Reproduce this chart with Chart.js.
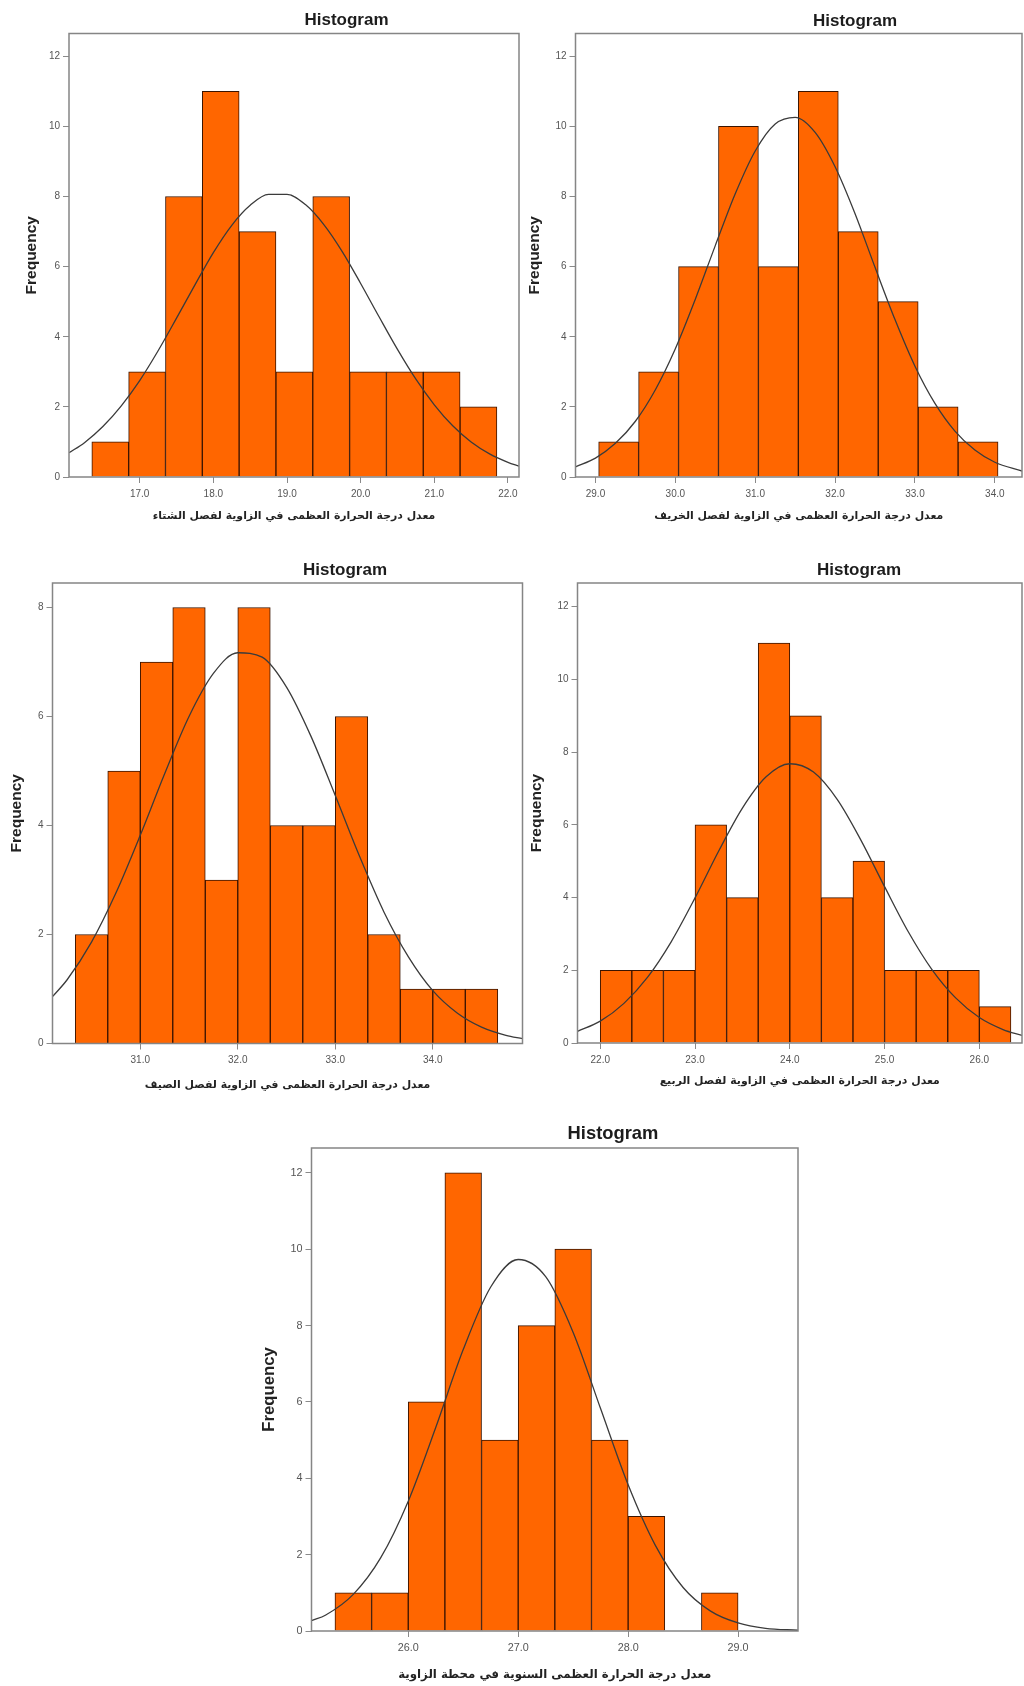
<!DOCTYPE html>
<html>
<head>
<meta charset="utf-8">
<script src="https://cdn.jsdelivr.net/npm/chart.js@4.4.1/dist/chart.umd.min.js"></script>
<style>
  html, body { margin: 0; padding: 0; background: #ffffff; }
  body { width: 1024px; height: 1686px; position: relative; overflow: hidden; }
  canvas { position: absolute; }
</style>
</head>
<body>
<canvas id="winter"></canvas>
<canvas id="autumn"></canvas>
<canvas id="summer"></canvas>
<canvas id="spring"></canvas>
<canvas id="annual"></canvas>
<script>
// ---- Winter: mean maximum temperature ----
const winterEdges  = [16.35, 16.85, 17.35, 17.85, 18.35, 18.85, 19.35, 19.85, 20.35, 20.85, 21.35, 21.85];
const winterCounts = [1, 3, 8, 11, 7, 3, 8, 3, 3, 3, 2];
const winterCurveX = [16.04, 16.25, 16.5, 16.75, 17, 17.25, 17.5, 17.75, 18, 18.25, 18.5, 18.75, 19, 19.25, 19.5, 19.75, 20, 20.25, 20.5, 20.75, 21, 21.25, 21.5, 21.75, 22, 22.15];
const winterCurveY = [0.69, 0.98, 1.44, 2.03, 2.75, 3.60, 4.53, 5.48, 6.40, 7.18, 7.75, 8.06, 8.06, 7.77, 7.20, 6.43, 5.52, 4.57, 3.64, 2.79, 2.06, 1.46, 1.00, 0.66, 0.42, 0.31];
const winterTicks  = [17, 18, 19, 20, 21, 22];
const winterRange  = [16.04, 22.15];

// ---- Autumn ----
const autumnEdges  = [29.04, 29.54, 30.04, 30.54, 31.04, 31.54, 32.04, 32.54, 33.04, 33.54, 34.04];
const autumnCounts = [1, 3, 6, 10, 6, 11, 7, 5, 2, 1];
const autumnCurveX = [28.75, 29, 29.25, 29.5, 29.75, 30, 30.25, 30.5, 30.75, 31, 31.25, 31.5, 31.75, 32, 32.25, 32.5, 32.75, 33, 33.25, 33.5, 33.75, 34, 34.34];
const autumnCurveY = [0.29, 0.54, 0.96, 1.59, 2.49, 3.66, 5.07, 6.60, 8.08, 9.30, 10.07, 10.26, 9.83, 8.85, 7.51, 5.98, 4.49, 3.16, 2.10, 1.31, 0.77, 0.42, 0.17];
const autumnTicks  = [29, 30, 31, 32, 33, 34];
const autumnRange  = [28.75, 34.34];

// ---- Summer ----
const summerEdges  = [30.3333, 30.6667, 31.0, 31.3333, 31.6667, 32.0, 32.3333, 32.6667, 33.0, 33.3333, 33.6667, 34.0, 34.3333, 34.6667];
const summerCounts = [2, 5, 7, 8, 3, 8, 4, 4, 6, 2, 1, 1, 1];
const summerCurveX = [30.10, 30.25, 30.5, 30.75, 31, 31.25, 31.5, 31.75, 32, 32.25, 32.5, 32.75, 33, 33.25, 33.5, 33.75, 34, 34.25, 34.5, 34.75, 34.92];
const summerCurveY = [0.86, 1.17, 1.86, 2.76, 3.82, 4.95, 6.00, 6.79, 7.17, 7.09, 6.54, 5.64, 4.55, 3.43, 2.41, 1.59, 0.97, 0.56, 0.30, 0.15, 0.09];
const summerTicks  = [31, 32, 33, 34];
const summerRange  = [30.10, 34.92];

// ---- Spring ----
const springEdges  = [22.0, 22.3333, 22.6667, 23.0, 23.3333, 23.6667, 24.0, 24.3333, 24.6667, 25.0, 25.3333, 25.6667, 26.0, 26.3333];
const springCounts = [2, 2, 2, 6, 4, 11, 9, 4, 5, 2, 2, 2, 1];
const springCurveX = [21.76, 22, 22.25, 22.5, 22.75, 23, 23.25, 23.5, 23.75, 24, 24.25, 24.5, 24.75, 25, 25.25, 25.5, 25.75, 26, 26.25, 26.45];
const springCurveY = [0.32, 0.60, 1.09, 1.81, 2.79, 3.99, 5.28, 6.46, 7.32, 7.68, 7.45, 6.70, 5.58, 4.30, 3.06, 2.02, 1.24, 0.70, 0.37, 0.21];
const springTicks  = [22, 23, 24, 25, 26];
const springRange  = [21.76, 26.45];

// ---- Annual (station) ----
const annualEdges  = [25.3333, 25.6667, 26.0, 26.3333, 26.6667, 27.0, 27.3333, 27.6667, 28.0, 28.3333, 28.6667, 29.0];
const annualCounts = [1, 1, 6, 12, 5, 8, 10, 5, 3, 0, 1];
const annualCurveX = [25.12, 25.25, 25.5, 25.75, 26, 26.25, 26.5, 26.75, 27, 27.25, 27.5, 27.75, 28, 28.25, 28.5, 28.75, 29, 29.25, 29.545];
const annualCurveY = [0.27, 0.42, 0.96, 1.92, 3.40, 5.33, 7.37, 9.01, 9.73, 9.28, 7.82, 5.82, 3.83, 2.23, 1.14, 0.52, 0.21, 0.07, 0.02];
const annualTicks  = [26, 27, 28, 29];
const annualRange  = [25.12, 29.545];

// Frequency axis
const freqTicks12 = [0, 2, 4, 6, 8, 10, 12];
const freqTicks8  = [0, 2, 4, 6, 8];

// Axis titles
const chartTitle = 'Histogram';
const yTitle = 'Frequency';
const winterTitle = 'معدل درجة الحرارة العظمى في الزاوية لفصل الشتاء';
const autumnTitle = 'معدل درجة الحرارة العظمى في الزاوية لفصل الخريف';
const summerTitle = 'معدل درجة الحرارة العظمى في الزاوية لفصل الصيف';
const springTitle = 'معدل درجة الحرارة العظمى في الزاوية لفصل الربيع';
const annualTitle = 'معدل درجة الحرارة العظمى السنوية في محطة الزاوية';

// Page placement of each panel (canvas rect, plot frame, text anchors), in page pixels
const panels = [
  { id: 'winter', canvas: [0, 0, 524, 540], box: [69, 33.5, 519, 477], yMax: 12.65,
    edges: winterEdges, counts: winterCounts, cx: winterCurveX, cy: winterCurveY,
    xTicks: winterTicks, yTicks: freqTicks12, range: winterRange, xTitle: winterTitle,
    head: [346.5, 20.5], freqX: 32, xTitleY: 516, k: 1 },
  { id: 'autumn', canvas: [524, 0, 500, 540], box: [575.5, 33.5, 1022, 477], yMax: 12.65,
    edges: autumnEdges, counts: autumnCounts, cx: autumnCurveX, cy: autumnCurveY,
    xTicks: autumnTicks, yTicks: freqTicks12, range: autumnRange, xTitle: autumnTitle,
    head: [855, 21], freqX: 534.5, xTitleY: 516, k: 1 },
  { id: 'summer', canvas: [0, 548, 528, 560], box: [52.5, 583, 522.5, 1043.5], yMax: 8.45,
    edges: summerEdges, counts: summerCounts, cx: summerCurveX, cy: summerCurveY,
    xTicks: summerTicks, yTicks: freqTicks8, range: summerRange, xTitle: summerTitle,
    head: [345, 570.5], freqX: 17, xTitleY: 1085, k: 1 },
  { id: 'spring', canvas: [528, 548, 496, 560], box: [577.5, 583, 1022, 1043], yMax: 12.65,
    edges: springEdges, counts: springCounts, cx: springCurveX, cy: springCurveY,
    xTicks: springTicks, yTicks: freqTicks12, range: springRange, xTitle: springTitle,
    head: [859, 570.5], freqX: 537, xTitleY: 1081, k: 1 },
  { id: 'annual', canvas: [250, 1116, 600, 570], box: [311.5, 1148, 798, 1631], yMax: 12.65,
    edges: annualEdges, counts: annualCounts, cx: annualCurveX, cy: annualCurveY,
    xTicks: annualTicks, yTicks: freqTicks12, range: annualRange, xTitle: annualTitle,
    head: [613, 1134], freqX: 269, xTitleY: 1675, k: 1.08 }
];

const LATIN = '"Liberation Sans", Arial, Helvetica, sans-serif';
const ARABIC = '"DejaVu Sans", "Noto Sans", sans-serif';

// Plot frame around the chart area and the heading above it
const panelDecor = {
  id: 'panelDecor',
  afterDatasetsDraw(chart) {
    const { ctx, chartArea: a } = chart;
    ctx.save();
    ctx.strokeStyle = '#858585';
    ctx.lineWidth = 1.5;
    ctx.strokeRect(a.left, a.top, a.right - a.left, a.bottom - a.top);
    ctx.restore();
  },
  afterDraw(chart, args, opts) {
    const ctx = chart.ctx;
    ctx.save();
    ctx.font = 'bold ' + opts.size + 'px ' + LATIN;
    ctx.fillStyle = '#1c1c1c';
    ctx.textAlign = 'center';
    ctx.textBaseline = 'middle';
    ctx.fillText(opts.text, opts.x, opts.y);
    ctx.restore();
  }
};

function buildHistogram(p) {
  const [cx0, cy0, cw, ch] = p.canvas;
  const [bl, bt, br, bb] = p.box;
  const el = document.getElementById(p.id);
  el.width = cw; el.height = ch;
  el.style.left = cx0 + 'px'; el.style.top = cy0 + 'px';
  el.style.width = cw + 'px'; el.style.height = ch + 'px';

  const bars = p.counts.map((c, i) => ({ x: (p.edges[i] + p.edges[i + 1]) / 2, y: c }));
  const curve = p.cx.map((x, i) => ({ x: x, y: p.cy[i] }));

  const tickFont = { family: LATIN, size: Math.round(10 * p.k * 10) / 10 };
  const freqFont = { family: LATIN, size: 15.5 * p.k, weight: 'bold', lineHeight: 1.2 };
  const xTitleFont = { family: ARABIC, size: 10.9 * p.k, weight: 'bold', lineHeight: 1.2 };
  const freqPad = (p.freqX - cx0) - freqFont.size * 1.2 / 2;
  const xTitlePad = (cy0 + ch - p.xTitleY) - xTitleFont.size * 1.2 / 2;

  new Chart(el, {
    type: 'bar',
    data: {
      datasets: [
        {
          type: 'line', data: curve, order: 0,
          borderColor: '#3b3b3b', borderWidth: 1.3, pointRadius: 0,
          cubicInterpolationMode: 'monotone', fill: false
        },
        {
          type: 'bar', data: bars, order: 1,
          backgroundColor: '#ff6600', borderColor: '#3a1400', borderWidth: 1,
          barPercentage: 1, categoryPercentage: 1
        }
      ]
    },
    options: {
      responsive: false,
      animation: false,
      devicePixelRatio: 1,
      layout: { padding: { left: 0, top: bt - cy0, right: cx0 + cw - br, bottom: 0 } },
      plugins: {
        legend: { display: false },
        tooltip: { enabled: false },
        title: { display: false },
        panelDecor: { text: chartTitle, x: p.head[0] - cx0, y: p.head[1] - cy0, size: 17 * p.k }
      },
      scales: {
        x: {
          type: 'linear', min: p.range[0], max: p.range[1], offset: false,
          afterBuildTicks: s => { s.ticks = p.xTicks.map(v => ({ value: v })); },
          afterFit: s => { s.height = cy0 + ch - bb; s.paddingLeft = 0; s.paddingRight = 0; },
          ticks: {
            autoSkip: false, maxRotation: 0, padding: 5, color: '#555555', font: tickFont,
            callback: v => Number(v).toFixed(1)
          },
          grid: { offset: false, drawOnChartArea: false, drawTicks: true, tickLength: 6, color: '#8a8a8a', lineWidth: 1 },
          border: { display: false },
          title: {
            display: true, text: p.xTitle, color: '#222222', font: xTitleFont,
            padding: { top: 0, bottom: xTitlePad }
          }
        },
        y: {
          type: 'linear', min: 0, max: p.yMax,
          afterBuildTicks: s => { s.ticks = p.yTicks.map(v => ({ value: v })); },
          afterFit: s => { s.width = bl - cx0; s.paddingTop = 0; s.paddingBottom = 0; },
          ticks: { autoSkip: false, padding: 3, color: '#555555', font: tickFont },
          grid: { offset: false, drawOnChartArea: false, drawTicks: true, tickLength: 6, color: '#8a8a8a', lineWidth: 1 },
          border: { display: false },
          title: {
            display: true, text: yTitle, color: '#222222', font: freqFont,
            padding: { top: freqPad, bottom: 0 }
          }
        }
      }
    },
    plugins: [panelDecor]
  });
}

panels.forEach(buildHistogram);
</script>
</body>
</html>
